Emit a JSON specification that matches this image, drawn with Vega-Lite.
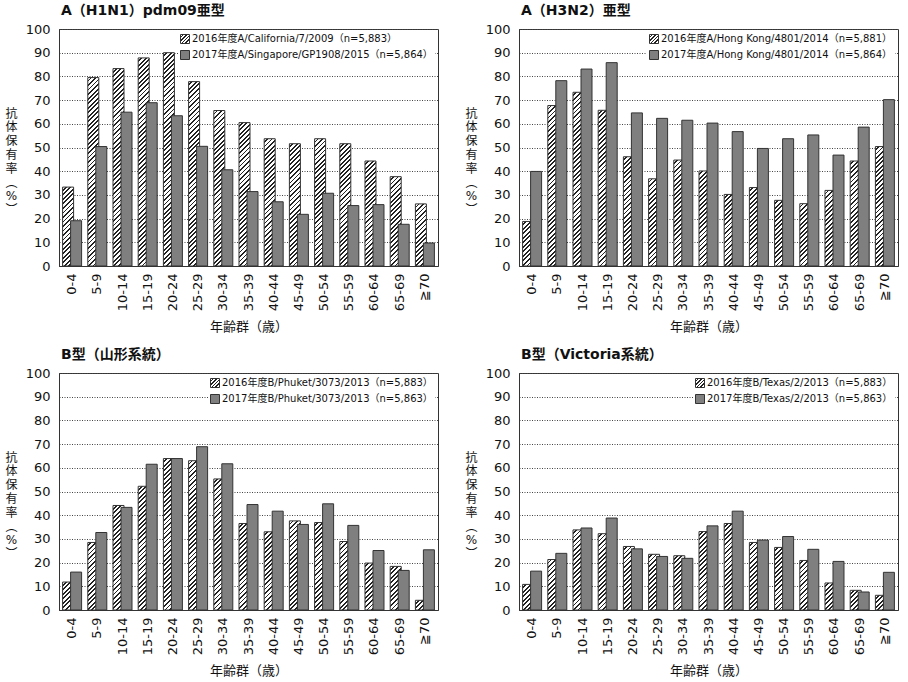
{
  "$schema": "https://vega.github.io/schema/vega-lite/v6.json",
  "background": "white",
  "padding": {"left": 4, "top": 3, "right": 4, "bottom": 2},
  "params": [
    {"name": "hatchStops", "value": [
      {"offset": 0, "color": "#fff"}, {"offset": 0.012, "color": "#fff"}, {"offset": 0.012, "color": "#222"}, {"offset": 0.02, "color": "#222"},
      {"offset": 0.02, "color": "#fff"}, {"offset": 0.032, "color": "#fff"}, {"offset": 0.032, "color": "#222"}, {"offset": 0.04, "color": "#222"},
      {"offset": 0.04, "color": "#fff"}, {"offset": 0.052, "color": "#fff"}, {"offset": 0.052, "color": "#222"}, {"offset": 0.06, "color": "#222"},
      {"offset": 0.06, "color": "#fff"}, {"offset": 0.072, "color": "#fff"}, {"offset": 0.072, "color": "#222"}, {"offset": 0.08, "color": "#222"},
      {"offset": 0.08, "color": "#fff"}, {"offset": 0.092, "color": "#fff"}, {"offset": 0.092, "color": "#222"}, {"offset": 0.1, "color": "#222"},
      {"offset": 0.1, "color": "#fff"}, {"offset": 0.112, "color": "#fff"}, {"offset": 0.112, "color": "#222"}, {"offset": 0.12, "color": "#222"},
      {"offset": 0.12, "color": "#fff"}, {"offset": 0.132, "color": "#fff"}, {"offset": 0.132, "color": "#222"}, {"offset": 0.14, "color": "#222"},
      {"offset": 0.14, "color": "#fff"}, {"offset": 0.152, "color": "#fff"}, {"offset": 0.152, "color": "#222"}, {"offset": 0.16, "color": "#222"},
      {"offset": 0.16, "color": "#fff"}, {"offset": 0.172, "color": "#fff"}, {"offset": 0.172, "color": "#222"}, {"offset": 0.18, "color": "#222"},
      {"offset": 0.18, "color": "#fff"}, {"offset": 0.192, "color": "#fff"}, {"offset": 0.192, "color": "#222"}, {"offset": 0.2, "color": "#222"},
      {"offset": 0.2, "color": "#fff"}, {"offset": 0.212, "color": "#fff"}, {"offset": 0.212, "color": "#222"}, {"offset": 0.22, "color": "#222"},
      {"offset": 0.22, "color": "#fff"}, {"offset": 0.232, "color": "#fff"}, {"offset": 0.232, "color": "#222"}, {"offset": 0.24, "color": "#222"},
      {"offset": 0.24, "color": "#fff"}, {"offset": 0.252, "color": "#fff"}, {"offset": 0.252, "color": "#222"}, {"offset": 0.26, "color": "#222"},
      {"offset": 0.26, "color": "#fff"}, {"offset": 0.272, "color": "#fff"}, {"offset": 0.272, "color": "#222"}, {"offset": 0.28, "color": "#222"},
      {"offset": 0.28, "color": "#fff"}, {"offset": 0.292, "color": "#fff"}, {"offset": 0.292, "color": "#222"}, {"offset": 0.3, "color": "#222"},
      {"offset": 0.3, "color": "#fff"}, {"offset": 0.312, "color": "#fff"}, {"offset": 0.312, "color": "#222"}, {"offset": 0.32, "color": "#222"},
      {"offset": 0.32, "color": "#fff"}, {"offset": 0.332, "color": "#fff"}, {"offset": 0.332, "color": "#222"}, {"offset": 0.34, "color": "#222"},
      {"offset": 0.34, "color": "#fff"}, {"offset": 0.352, "color": "#fff"}, {"offset": 0.352, "color": "#222"}, {"offset": 0.36, "color": "#222"},
      {"offset": 0.36, "color": "#fff"}, {"offset": 0.372, "color": "#fff"}, {"offset": 0.372, "color": "#222"}, {"offset": 0.38, "color": "#222"},
      {"offset": 0.38, "color": "#fff"}, {"offset": 0.392, "color": "#fff"}, {"offset": 0.392, "color": "#222"}, {"offset": 0.4, "color": "#222"},
      {"offset": 0.4, "color": "#fff"}, {"offset": 0.412, "color": "#fff"}, {"offset": 0.412, "color": "#222"}, {"offset": 0.42, "color": "#222"},
      {"offset": 0.42, "color": "#fff"}, {"offset": 0.432, "color": "#fff"}, {"offset": 0.432, "color": "#222"}, {"offset": 0.44, "color": "#222"},
      {"offset": 0.44, "color": "#fff"}, {"offset": 0.452, "color": "#fff"}, {"offset": 0.452, "color": "#222"}, {"offset": 0.46, "color": "#222"},
      {"offset": 0.46, "color": "#fff"}, {"offset": 0.472, "color": "#fff"}, {"offset": 0.472, "color": "#222"}, {"offset": 0.48, "color": "#222"},
      {"offset": 0.48, "color": "#fff"}, {"offset": 0.492, "color": "#fff"}, {"offset": 0.492, "color": "#222"}, {"offset": 0.5, "color": "#222"},
      {"offset": 0.5, "color": "#fff"}, {"offset": 0.512, "color": "#fff"}, {"offset": 0.512, "color": "#222"}, {"offset": 0.52, "color": "#222"},
      {"offset": 0.52, "color": "#fff"}, {"offset": 0.532, "color": "#fff"}, {"offset": 0.532, "color": "#222"}, {"offset": 0.54, "color": "#222"},
      {"offset": 0.54, "color": "#fff"}, {"offset": 0.552, "color": "#fff"}, {"offset": 0.552, "color": "#222"}, {"offset": 0.56, "color": "#222"},
      {"offset": 0.56, "color": "#fff"}, {"offset": 0.572, "color": "#fff"}, {"offset": 0.572, "color": "#222"}, {"offset": 0.58, "color": "#222"},
      {"offset": 0.58, "color": "#fff"}, {"offset": 0.592, "color": "#fff"}, {"offset": 0.592, "color": "#222"}, {"offset": 0.6, "color": "#222"},
      {"offset": 0.6, "color": "#fff"}, {"offset": 0.612, "color": "#fff"}, {"offset": 0.612, "color": "#222"}, {"offset": 0.62, "color": "#222"},
      {"offset": 0.62, "color": "#fff"}, {"offset": 0.632, "color": "#fff"}, {"offset": 0.632, "color": "#222"}, {"offset": 0.64, "color": "#222"},
      {"offset": 0.64, "color": "#fff"}, {"offset": 0.652, "color": "#fff"}, {"offset": 0.652, "color": "#222"}, {"offset": 0.66, "color": "#222"},
      {"offset": 0.66, "color": "#fff"}, {"offset": 0.672, "color": "#fff"}, {"offset": 0.672, "color": "#222"}, {"offset": 0.68, "color": "#222"},
      {"offset": 0.68, "color": "#fff"}, {"offset": 0.692, "color": "#fff"}, {"offset": 0.692, "color": "#222"}, {"offset": 0.7, "color": "#222"},
      {"offset": 0.7, "color": "#fff"}, {"offset": 0.712, "color": "#fff"}, {"offset": 0.712, "color": "#222"}, {"offset": 0.72, "color": "#222"},
      {"offset": 0.72, "color": "#fff"}, {"offset": 0.732, "color": "#fff"}, {"offset": 0.732, "color": "#222"}, {"offset": 0.74, "color": "#222"},
      {"offset": 0.74, "color": "#fff"}, {"offset": 0.752, "color": "#fff"}, {"offset": 0.752, "color": "#222"}, {"offset": 0.76, "color": "#222"},
      {"offset": 0.76, "color": "#fff"}, {"offset": 0.772, "color": "#fff"}, {"offset": 0.772, "color": "#222"}, {"offset": 0.78, "color": "#222"},
      {"offset": 0.78, "color": "#fff"}, {"offset": 0.792, "color": "#fff"}, {"offset": 0.792, "color": "#222"}, {"offset": 0.8, "color": "#222"},
      {"offset": 0.8, "color": "#fff"}, {"offset": 0.812, "color": "#fff"}, {"offset": 0.812, "color": "#222"}, {"offset": 0.82, "color": "#222"},
      {"offset": 0.82, "color": "#fff"}, {"offset": 0.832, "color": "#fff"}, {"offset": 0.832, "color": "#222"}, {"offset": 0.84, "color": "#222"},
      {"offset": 0.84, "color": "#fff"}, {"offset": 0.852, "color": "#fff"}, {"offset": 0.852, "color": "#222"}, {"offset": 0.86, "color": "#222"},
      {"offset": 0.86, "color": "#fff"}, {"offset": 0.872, "color": "#fff"}, {"offset": 0.872, "color": "#222"}, {"offset": 0.88, "color": "#222"},
      {"offset": 0.88, "color": "#fff"}, {"offset": 0.892, "color": "#fff"}, {"offset": 0.892, "color": "#222"}, {"offset": 0.9, "color": "#222"},
      {"offset": 0.9, "color": "#fff"}, {"offset": 0.912, "color": "#fff"}, {"offset": 0.912, "color": "#222"}, {"offset": 0.92, "color": "#222"},
      {"offset": 0.92, "color": "#fff"}, {"offset": 0.932, "color": "#fff"}, {"offset": 0.932, "color": "#222"}, {"offset": 0.94, "color": "#222"},
      {"offset": 0.94, "color": "#fff"}, {"offset": 0.952, "color": "#fff"}, {"offset": 0.952, "color": "#222"}, {"offset": 0.96, "color": "#222"},
      {"offset": 0.96, "color": "#fff"}, {"offset": 0.972, "color": "#fff"}, {"offset": 0.972, "color": "#222"}, {"offset": 0.98, "color": "#222"},
      {"offset": 0.98, "color": "#fff"}, {"offset": 0.992, "color": "#fff"}, {"offset": 0.992, "color": "#222"}, {"offset": 1, "color": "#222"}
    ]},
    {"name": "legendHatch", "value": {"gradient": "linear", "x1": 0, "y1": 0, "x2": 1, "y2": 1, "stops": [
      {"offset": 0, "color": "#fff"}, {"offset": 0.12, "color": "#fff"}, {"offset": 0.12, "color": "#222"}, {"offset": 0.2, "color": "#222"},
      {"offset": 0.2, "color": "#fff"}, {"offset": 0.32, "color": "#fff"}, {"offset": 0.32, "color": "#222"}, {"offset": 0.4, "color": "#222"},
      {"offset": 0.4, "color": "#fff"}, {"offset": 0.52, "color": "#fff"}, {"offset": 0.52, "color": "#222"}, {"offset": 0.6, "color": "#222"},
      {"offset": 0.6, "color": "#fff"}, {"offset": 0.72, "color": "#fff"}, {"offset": 0.72, "color": "#222"}, {"offset": 0.8, "color": "#222"},
      {"offset": 0.8, "color": "#fff"}, {"offset": 0.92, "color": "#fff"}, {"offset": 0.92, "color": "#222"}, {"offset": 1, "color": "#222"}
    ]}}
  ],
  "datasets": {
    "h1n1": [
      {"age": "0-4", "year": "2016", "value": 33.3}, {"age": "5-9", "year": "2016", "value": 79.5}, {"age": "10-14", "year": "2016", "value": 83.3},
      {"age": "15-19", "year": "2016", "value": 87.8}, {"age": "20-24", "year": "2016", "value": 90.0}, {"age": "25-29", "year": "2016", "value": 77.8},
      {"age": "30-34", "year": "2016", "value": 65.6}, {"age": "35-39", "year": "2016", "value": 60.5}, {"age": "40-44", "year": "2016", "value": 53.7},
      {"age": "45-49", "year": "2016", "value": 51.6}, {"age": "50-54", "year": "2016", "value": 53.7}, {"age": "55-59", "year": "2016", "value": 51.6},
      {"age": "60-64", "year": "2016", "value": 44.3}, {"age": "65-69", "year": "2016", "value": 37.7}, {"age": "≧70", "year": "2016", "value": 26.2},
      {"age": "0-4", "year": "2017", "value": 19.1}, {"age": "5-9", "year": "2017", "value": 50.4}, {"age": "10-14", "year": "2017", "value": 64.9},
      {"age": "15-19", "year": "2017", "value": 68.9}, {"age": "20-24", "year": "2017", "value": 63.4}, {"age": "25-29", "year": "2017", "value": 50.5},
      {"age": "30-34", "year": "2017", "value": 40.6}, {"age": "35-39", "year": "2017", "value": 31.4}, {"age": "40-44", "year": "2017", "value": 27.1},
      {"age": "45-49", "year": "2017", "value": 21.8}, {"age": "50-54", "year": "2017", "value": 30.7}, {"age": "55-59", "year": "2017", "value": 25.5},
      {"age": "60-64", "year": "2017", "value": 25.9}, {"age": "65-69", "year": "2017", "value": 17.6}, {"age": "≧70", "year": "2017", "value": 9.7}
    ],
    "h3n2": [
      {"age": "0-4", "year": "2016", "value": 18.8}, {"age": "5-9", "year": "2016", "value": 67.7}, {"age": "10-14", "year": "2016", "value": 73.3},
      {"age": "15-19", "year": "2016", "value": 65.7}, {"age": "20-24", "year": "2016", "value": 46.1}, {"age": "25-29", "year": "2016", "value": 36.8},
      {"age": "30-34", "year": "2016", "value": 44.7}, {"age": "35-39", "year": "2016", "value": 40.1}, {"age": "40-44", "year": "2016", "value": 30.2},
      {"age": "45-49", "year": "2016", "value": 33.1}, {"age": "50-54", "year": "2016", "value": 27.7}, {"age": "55-59", "year": "2016", "value": 26.3},
      {"age": "60-64", "year": "2016", "value": 31.9}, {"age": "65-69", "year": "2016", "value": 44.3}, {"age": "≧70", "year": "2016", "value": 50.4},
      {"age": "0-4", "year": "2017", "value": 39.9}, {"age": "5-9", "year": "2017", "value": 78.2}, {"age": "10-14", "year": "2017", "value": 83.1},
      {"age": "15-19", "year": "2017", "value": 85.8}, {"age": "20-24", "year": "2017", "value": 64.6}, {"age": "25-29", "year": "2017", "value": 62.3},
      {"age": "30-34", "year": "2017", "value": 61.5}, {"age": "35-39", "year": "2017", "value": 60.3}, {"age": "40-44", "year": "2017", "value": 56.7},
      {"age": "45-49", "year": "2017", "value": 49.6}, {"age": "50-54", "year": "2017", "value": 53.7}, {"age": "55-59", "year": "2017", "value": 55.3},
      {"age": "60-64", "year": "2017", "value": 46.8}, {"age": "65-69", "year": "2017", "value": 58.6}, {"age": "≧70", "year": "2017", "value": 70.2}
    ],
    "yamagata": [
      {"age": "0-4", "year": "2016", "value": 11.8}, {"age": "5-9", "year": "2016", "value": 28.5}, {"age": "10-14", "year": "2016", "value": 44.1},
      {"age": "15-19", "year": "2016", "value": 52.2}, {"age": "20-24", "year": "2016", "value": 63.9}, {"age": "25-29", "year": "2016", "value": 63.0},
      {"age": "30-34", "year": "2016", "value": 55.3}, {"age": "35-39", "year": "2016", "value": 36.5}, {"age": "40-44", "year": "2016", "value": 33.0},
      {"age": "45-49", "year": "2016", "value": 37.6}, {"age": "50-54", "year": "2016", "value": 36.9}, {"age": "55-59", "year": "2016", "value": 28.9},
      {"age": "60-64", "year": "2016", "value": 19.8}, {"age": "65-69", "year": "2016", "value": 18.4}, {"age": "≧70", "year": "2016", "value": 4.1},
      {"age": "0-4", "year": "2017", "value": 16.0}, {"age": "5-9", "year": "2017", "value": 32.7}, {"age": "10-14", "year": "2017", "value": 43.3},
      {"age": "15-19", "year": "2017", "value": 61.5}, {"age": "20-24", "year": "2017", "value": 63.9}, {"age": "25-29", "year": "2017", "value": 68.9},
      {"age": "30-34", "year": "2017", "value": 61.7}, {"age": "35-39", "year": "2017", "value": 44.5}, {"age": "40-44", "year": "2017", "value": 41.7},
      {"age": "45-49", "year": "2017", "value": 36.1}, {"age": "50-54", "year": "2017", "value": 44.8}, {"age": "55-59", "year": "2017", "value": 35.7},
      {"age": "60-64", "year": "2017", "value": 25.1}, {"age": "65-69", "year": "2017", "value": 16.7}, {"age": "≧70", "year": "2017", "value": 25.4}
    ],
    "victoria": [
      {"age": "0-4", "year": "2016", "value": 10.8}, {"age": "5-9", "year": "2016", "value": 21.3}, {"age": "10-14", "year": "2016", "value": 33.8},
      {"age": "15-19", "year": "2016", "value": 32.2}, {"age": "20-24", "year": "2016", "value": 26.8}, {"age": "25-29", "year": "2016", "value": 23.5},
      {"age": "30-34", "year": "2016", "value": 22.9}, {"age": "35-39", "year": "2016", "value": 33.1}, {"age": "40-44", "year": "2016", "value": 36.5},
      {"age": "45-49", "year": "2016", "value": 28.5}, {"age": "50-54", "year": "2016", "value": 26.4}, {"age": "55-59", "year": "2016", "value": 20.9},
      {"age": "60-64", "year": "2016", "value": 11.4}, {"age": "65-69", "year": "2016", "value": 8.3}, {"age": "≧70", "year": "2016", "value": 6.2},
      {"age": "0-4", "year": "2017", "value": 16.4}, {"age": "5-9", "year": "2017", "value": 23.9}, {"age": "10-14", "year": "2017", "value": 34.6},
      {"age": "15-19", "year": "2017", "value": 38.8}, {"age": "20-24", "year": "2017", "value": 25.8}, {"age": "25-29", "year": "2017", "value": 22.6},
      {"age": "30-34", "year": "2017", "value": 21.8}, {"age": "35-39", "year": "2017", "value": 35.5}, {"age": "40-44", "year": "2017", "value": 41.7},
      {"age": "45-49", "year": "2017", "value": 29.5}, {"age": "50-54", "year": "2017", "value": 31.0}, {"age": "55-59", "year": "2017", "value": 25.6},
      {"age": "60-64", "year": "2017", "value": 20.5}, {"age": "65-69", "year": "2017", "value": 7.6}, {"age": "≧70", "year": "2017", "value": 15.9}
    ]
  },
  "vconcat": [
    {
      "hconcat": [
        {
          "title": {"text": "A（H1N1）pdm09亜型"},
          "data": {"name": "h1n1"},
          "width": 379, "height": 237,
          "encoding": {
            "x": {"field": "age", "type": "nominal", "scale": {"domain": ["0-4", "5-9", "10-14", "15-19", "20-24", "25-29", "30-34", "35-39", "40-44", "45-49", "50-54", "55-59", "60-64", "65-69", "≧70"], "paddingInner": 0, "paddingOuter": 0.02}, "axis": {"title": "年齢群（歳）"}},
            "y": {"field": "value", "type": "quantitative", "scale": {"domain": [0, 100]}, "axis": {"title": ["抗", "体", "保", "有", "率", "︵", "%", "︶"]}}
          },
          "layer": [
            {"transform": [{"filter": "datum.year == '2016'"}],
             "mark": {"type": "bar", "width": 11, "xOffset": -4, "stroke": "#333", "strokeWidth": 1,
                      "fill": {"expr": "{gradient: 'linear', x1: 0, y1: 0, x2: 160 * SQRT2 * 11 / (121 + pow(2.37 * datum.value, 2)), y2: 160 * SQRT2 * 2.37 * datum.value / (121 + pow(2.37 * datum.value, 2)), stops: hatchStops}"}}},
            {"transform": [{"filter": "datum.year == '2017'"}],
             "mark": {"type": "bar", "width": 11, "xOffset": 4, "stroke": "#333", "strokeWidth": 1},
             "encoding": {"fill": {"field": "year", "type": "nominal", "scale": {"domain": ["2016", "2017"], "range": [{"expr": "legendHatch"}, "#7f7f7f"]},
               "legend": {"title": null, "labelExpr": "datum.label == '2016' ? '2016年度A/California/7/2009（n=5,883）' : '2017年度A/Singapore/GP1908/2015（n=5,864）'"}}}}
          ]
        },
        {
          "title": {"text": "A（H3N2）亜型"},
          "data": {"name": "h3n2"},
          "width": 379, "height": 237,
          "encoding": {
            "x": {"field": "age", "type": "nominal", "scale": {"domain": ["0-4", "5-9", "10-14", "15-19", "20-24", "25-29", "30-34", "35-39", "40-44", "45-49", "50-54", "55-59", "60-64", "65-69", "≧70"], "paddingInner": 0, "paddingOuter": 0.02}, "axis": {"title": "年齢群（歳）"}},
            "y": {"field": "value", "type": "quantitative", "scale": {"domain": [0, 100]}, "axis": {"title": ["抗", "体", "保", "有", "率", "︵", "%", "︶"]}}
          },
          "layer": [
            {"transform": [{"filter": "datum.year == '2016'"}],
             "mark": {"type": "bar", "width": 11, "xOffset": -4, "stroke": "#333", "strokeWidth": 1,
                      "fill": {"expr": "{gradient: 'linear', x1: 0, y1: 0, x2: 160 * SQRT2 * 11 / (121 + pow(2.37 * datum.value, 2)), y2: 160 * SQRT2 * 2.37 * datum.value / (121 + pow(2.37 * datum.value, 2)), stops: hatchStops}"}}},
            {"transform": [{"filter": "datum.year == '2017'"}],
             "mark": {"type": "bar", "width": 11, "xOffset": 4, "stroke": "#333", "strokeWidth": 1},
             "encoding": {"fill": {"field": "year", "type": "nominal", "scale": {"domain": ["2016", "2017"], "range": [{"expr": "legendHatch"}, "#7f7f7f"]},
               "legend": {"title": null, "labelExpr": "datum.label == '2016' ? '2016年度A/Hong Kong/4801/2014（n=5,881）' : '2017年度A/Hong Kong/4801/2014（n=5,864）'"}}}}
          ]
        }
      ],
      "spacing": 25,
      "resolve": {"scale": {"fill": "independent"}, "legend": {"fill": "independent"}}
    },
    {
      "hconcat": [
        {
          "title": {"text": "B型（山形系統）"},
          "data": {"name": "yamagata"},
          "width": 379, "height": 237,
          "encoding": {
            "x": {"field": "age", "type": "nominal", "scale": {"domain": ["0-4", "5-9", "10-14", "15-19", "20-24", "25-29", "30-34", "35-39", "40-44", "45-49", "50-54", "55-59", "60-64", "65-69", "≧70"], "paddingInner": 0, "paddingOuter": 0.02}, "axis": {"title": "年齢群（歳）"}},
            "y": {"field": "value", "type": "quantitative", "scale": {"domain": [0, 100]}, "axis": {"title": ["抗", "体", "保", "有", "率", "︵", "%", "︶"]}}
          },
          "layer": [
            {"transform": [{"filter": "datum.year == '2016'"}],
             "mark": {"type": "bar", "width": 11, "xOffset": -4, "stroke": "#333", "strokeWidth": 1,
                      "fill": {"expr": "{gradient: 'linear', x1: 0, y1: 0, x2: 160 * SQRT2 * 11 / (121 + pow(2.37 * datum.value, 2)), y2: 160 * SQRT2 * 2.37 * datum.value / (121 + pow(2.37 * datum.value, 2)), stops: hatchStops}"}}},
            {"transform": [{"filter": "datum.year == '2017'"}],
             "mark": {"type": "bar", "width": 11, "xOffset": 4, "stroke": "#333", "strokeWidth": 1},
             "encoding": {"fill": {"field": "year", "type": "nominal", "scale": {"domain": ["2016", "2017"], "range": [{"expr": "legendHatch"}, "#7f7f7f"]},
               "legend": {"title": null, "labelExpr": "datum.label == '2016' ? '2016年度B/Phuket/3073/2013（n=5,883）' : '2017年度B/Phuket/3073/2013（n=5,863）'"}}}}
          ]
        },
        {
          "title": {"text": "B型（Victoria系統）"},
          "data": {"name": "victoria"},
          "width": 379, "height": 237,
          "encoding": {
            "x": {"field": "age", "type": "nominal", "scale": {"domain": ["0-4", "5-9", "10-14", "15-19", "20-24", "25-29", "30-34", "35-39", "40-44", "45-49", "50-54", "55-59", "60-64", "65-69", "≧70"], "paddingInner": 0, "paddingOuter": 0.02}, "axis": {"title": "年齢群（歳）"}},
            "y": {"field": "value", "type": "quantitative", "scale": {"domain": [0, 100]}, "axis": {"title": ["抗", "体", "保", "有", "率", "︵", "%", "︶"]}}
          },
          "layer": [
            {"transform": [{"filter": "datum.year == '2016'"}],
             "mark": {"type": "bar", "width": 11, "xOffset": -4, "stroke": "#333", "strokeWidth": 1,
                      "fill": {"expr": "{gradient: 'linear', x1: 0, y1: 0, x2: 160 * SQRT2 * 11 / (121 + pow(2.37 * datum.value, 2)), y2: 160 * SQRT2 * 2.37 * datum.value / (121 + pow(2.37 * datum.value, 2)), stops: hatchStops}"}}},
            {"transform": [{"filter": "datum.year == '2017'"}],
             "mark": {"type": "bar", "width": 11, "xOffset": 4, "stroke": "#333", "strokeWidth": 1},
             "encoding": {"fill": {"field": "year", "type": "nominal", "scale": {"domain": ["2016", "2017"], "range": [{"expr": "legendHatch"}, "#7f7f7f"]},
               "legend": {"title": null, "labelExpr": "datum.label == '2016' ? '2016年度B/Texas/2/2013（n=5,883）' : '2017年度B/Texas/2/2013（n=5,863）'"}}}}
          ]
        }
      ],
      "spacing": 25,
      "resolve": {"scale": {"fill": "independent"}, "legend": {"fill": "independent"}}
    }
  ],
  "spacing": 13,
  "resolve": {"scale": {"fill": "independent"}, "legend": {"fill": "independent"}},
  "config": {
    "font": "DejaVu Sans, Noto Sans CJK JP",
    "view": {"stroke": "#333", "strokeWidth": 1},
    "title": {"fontSize": 14, "fontWeight": "bold", "anchor": "start", "frame": "group", "offset": 5, "dx": 2, "color": "#111"},
    "axis": {"labelFontSize": 13, "labelColor": "#111", "domainColor": "#333", "ticks": false, "tickSize": 0, "titleFontWeight": "normal", "titleFontSize": 13, "titleColor": "#111"},
    "axisX": {"labelAngle": -90, "labelPadding": 7, "titlePadding": 9.5, "grid": false, "labelLimit": 0},
    "axisY": {"grid": true, "gridColor": "#444", "gridDash": [1, 1.5], "gridWidth": 1, "labelPadding": 9, "tickCount": 10,
              "titleAngle": 0, "titleX": -48, "titleY": 79, "titleAlign": "center", "titleBaseline": "top", "titleLineHeight": 13.8, "titleFontSize": 12},
    "legend": {"orient": "top-right", "offset": 3, "padding": 2, "fillColor": "white", "symbolType": "square", "symbolSize": 81,
               "symbolStrokeColor": "#333", "symbolStrokeWidth": 1, "labelFontSize": 10, "labelColor": "#111", "labelOffset": 2, "rowPadding": 2, "labelLimit": 0}
  }
}
